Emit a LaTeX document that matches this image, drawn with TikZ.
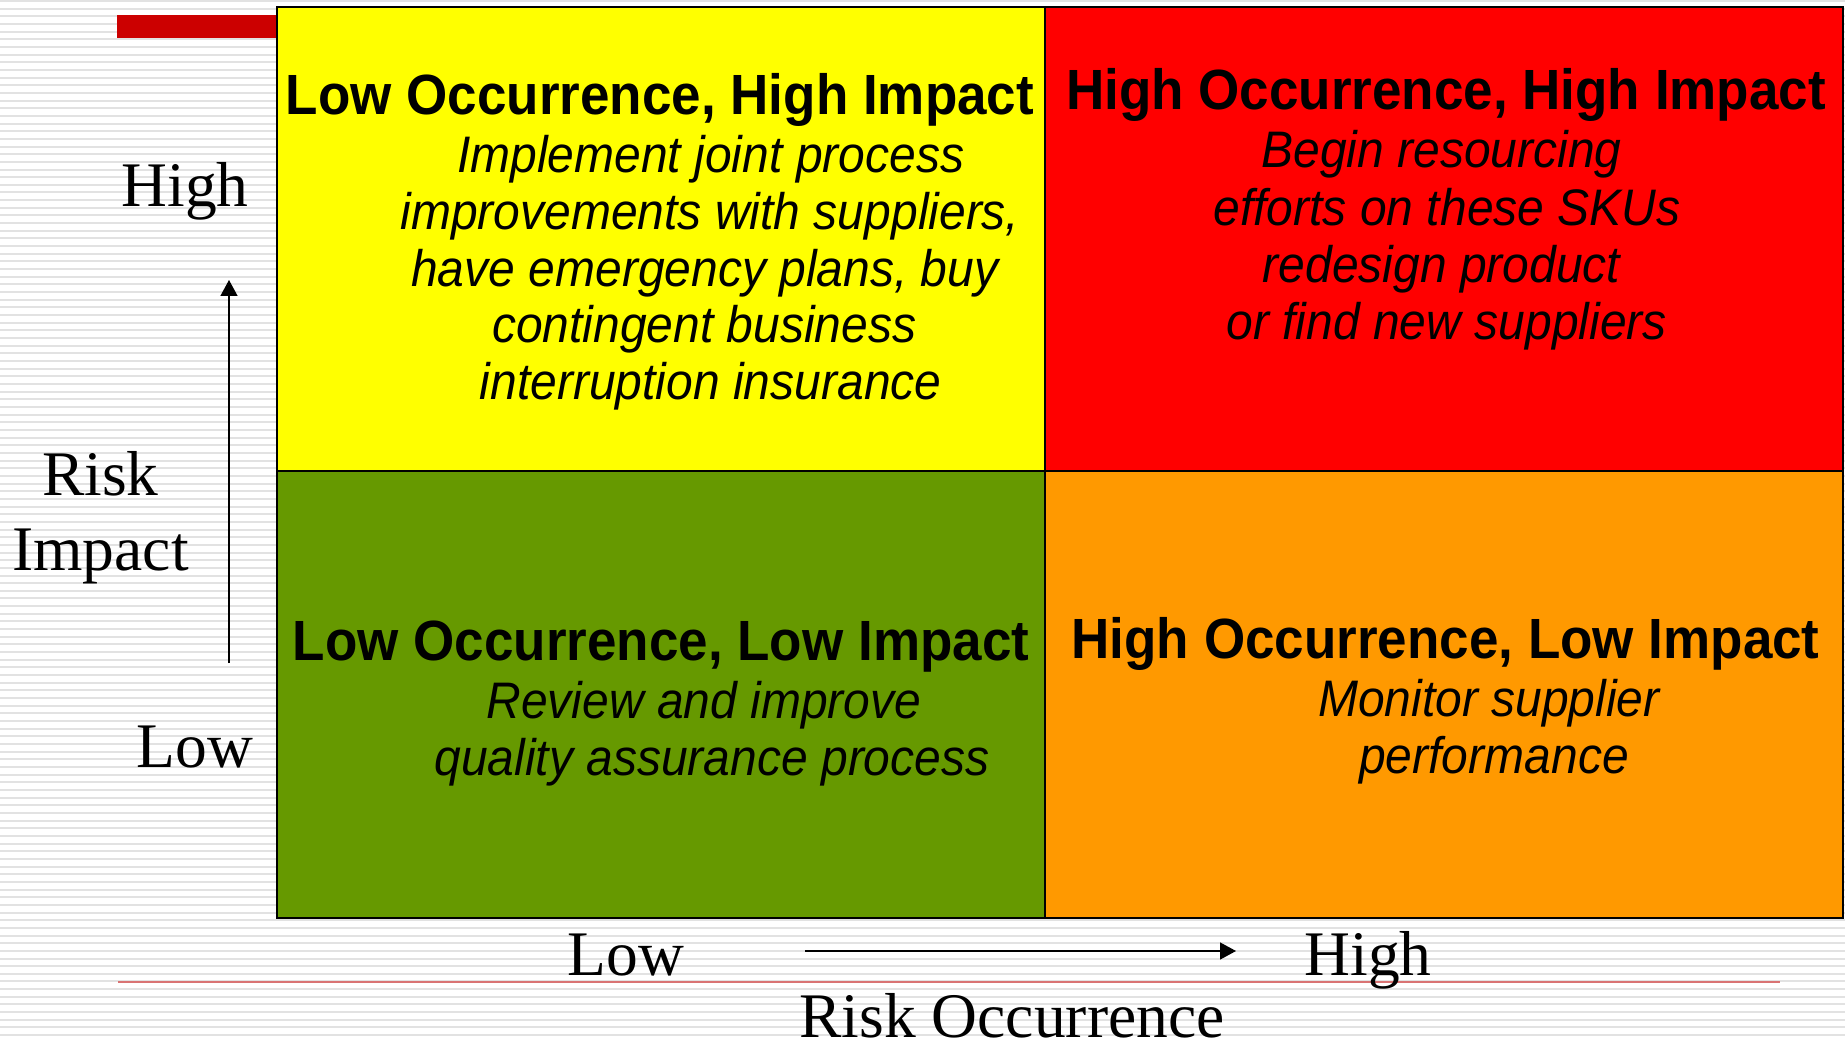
\documentclass[tikz,border=0pt]{standalone}
\usepackage{fontspec}
\setmainfont{Liberation Serif}
\newfontfamily\quadfont{Liberation Sans}
\usetikzlibrary{arrows.meta}

\definecolor{stripegray}{HTML}{E2E2E2}
\definecolor{barred}{HTML}{CC0000}
\definecolor{rulepink}{HTML}{D97373}
\definecolor{qyellow}{HTML}{FFFF00}
\definecolor{qred}{HTML}{FF0000}
\definecolor{qgreen}{HTML}{669900}
\definecolor{qorange}{HTML}{FF9900}

% slightly tall lettering for the quadrant texts
\newcommand{\tallq}[1]{\scalebox{1}[1.07]{#1}}

\begin{document}
\begin{tikzpicture}[x=0.5pt,y=-0.5pt,
  axislabel/.style={font=\fontsize{31.75}{38}\selectfont, anchor=base, inner sep=0pt},
  qtitle/.style={font=\quadfont\bfseries\fontsize{26.5}{32}\selectfont, anchor=base, inner sep=0pt},
  qtext/.style={font=\quadfont\itshape\fontsize{24}{29}\selectfont, anchor=base, inner sep=0pt},
  gridline/.style={draw=black, line width=1pt},
  axisarrow/.style={draw=black, line width=0.75pt, -{Triangle[length=8pt,width=8.5pt]}}]

\useasboundingbox (0,0) rectangle (1845,1042);

% striped slide background
\fill[white] (0,0) rectangle (1845,1042);
\foreach \i in {0,...,136}
  \fill[stripegray] (0,{\i*7.66}) rectangle (1845,{\i*7.66+2});

% red title bar and bottom rule
\fill[barred] (117,15) rectangle (277,38);
\coordinate (ruleL) at (118,982);
\coordinate (ruleR) at (1780,982);
\draw[rulepink, line width=1pt] (ruleL) -- (ruleR);

% the four quadrants
\fill[qyellow] (277,7) rectangle (1045,471);
\fill[qred]    (1045,7) rectangle (1843,471);
\fill[qgreen]  (277,471) rectangle (1045,918);
\fill[qorange] (1045,471) rectangle (1843,918);
\draw[gridline] (277,7) rectangle (1843,918);
\draw[gridline] (1045,7) -- (1045,918);
\draw[gridline] (277,471) -- (1843,471);

% low occurrence, high impact
\node[qtitle] (t1) at (660,115) {\tallq{Low Occurrence, High Impact}};
\node[qtext] (a1) at (710.7,173) {\tallq{Implement joint process}};
\node[qtext] (a2) at (710,230) {\tallq{improvements with suppliers,}};
\node[qtext] (a3) at (704.8,287) {\tallq{have emergency plans, buy}};
\node[qtext] (a4) at (704.3,343) {\tallq{contingent business}};
\node[qtext] (a5) at (710.7,400) {\tallq{interruption insurance}};

% high occurrence, high impact
\node[qtitle] (t2) at (1446,110) {\tallq{High Occurrence, High Impact}};
\node[qtext] (b1) at (1441.5,168) {\tallq{Begin resourcing}};
\node[qtext] (b2) at (1447,226) {\tallq{efforts on these SKUs}};
\node[qtext] (b3) at (1441.5,283) {\tallq{redesign product}};
\node[qtext] (b4) at (1446.7,340) {\tallq{or find new suppliers}};

% low occurrence, low impact
\node[qtitle] (t3) at (661,660) {\tallq{Low Occurrence, Low Impact}};
\node[qtext] (c1) at (704,718) {\tallq{Review and improve}};
\node[qtext] (c2) at (712,775) {\tallq{quality assurance process}};

% high occurrence, low impact
\node[qtitle] (t4) at (1445.6,658) {\tallq{High Occurrence, Low Impact}};
\node[qtext] (d1) at (1489,716) {\tallq{Monitor supplier}};
\node[qtext] (d2) at (1494,773) {\tallq{performance}};

% vertical axis
\node[axislabel] (yhigh) at (185,207) {High};
\node[axislabel] (yrisk) at (100.5,495) {Risk};
\node[axislabel] (yimpact) at (100.5,570) {Impact};
\node[axislabel] (ylow) at (195,767) {Low};
\coordinate (yfrom) at (229,663);
\coordinate (yto) at (229,280);
\draw[axisarrow] (yfrom) -- (yto);

% horizontal axis
\node[axislabel] (xlow) at (626,975) {Low};
\node[axislabel] (xhigh) at (1368,975) {High};
\node[axislabel] (xname) at (1012,1037) {Risk Occurrence};
\coordinate (xfrom) at (805,951);
\coordinate (xto) at (1236,951);
\draw[axisarrow] (xfrom) -- (xto);
\end{tikzpicture}
\end{document}
